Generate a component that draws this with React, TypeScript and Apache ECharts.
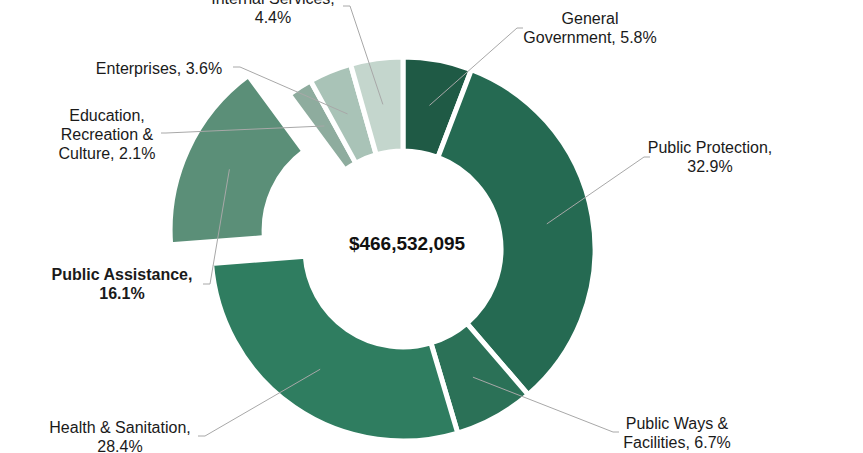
import React, { useEffect, useRef } from 'react';
import * as echarts from 'echarts';

const categories = [
  'General Government',
  'Public Protection',
  'Public Ways & Facilities',
  'Health & Sanitation',
  'Public Assistance',
  'Education, Recreation & Culture',
  'Enterprises',
  'Internal Services',
];
const labelPrefixes = [
  'General\nGovernment, ',
  'Public Protection,\n',
  'Public Ways &\nFacilities, ',
  'Health & Sanitation,\n',
  'Public Assistance,\n',
  'Education,\nRecreation &\nCulture, ',
  'Enterprises, ',
  'Internal Services,\n',
];
const values = [5.8, 32.9, 6.7, 28.4, 16.1, 2.1, 3.6, 4.4];
const colors = ['#1f5a45', '#256a52', '#2b7157', '#2f7d60', '#5b8f78', '#8eac9e', '#a9c3b7', '#c4d6cd'];
const totalLabel = '$466,532,095';
const highlighted = 'Public Assistance';

// layout (positions only)
const CX = 403;
const CY = 249;
const R_IN = 98;
const R_OUT = 192;
const ANCHOR_R = 146;
const EXPLODE = 45;
const labelPos: number[][] = [
  [590, 28], [710, 157], [677, 433], [120, 437], [122, 284], [107, 134], [159, 68], [273, 8],
];
const leaderEnds: number[][][] = [
  [[517, 28], [523, 28]],
  [[644, 157], [650, 157]],
  [[613, 432], [619, 432]],
  [[205, 436], [198, 436]],
  [[210, 284], [203, 284]],
  [[166, 133], [161, 133]],
  [[240, 67], [233, 67]],
  [[350, 6], [343, 6]],
];

const FONT = 'Liberation Sans, Arial, sans-serif';

export default function App() {
  const ref = useRef<HTMLDivElement>(null);
  useEffect(() => {
    document.body.style.margin = '0';
    if (!ref.current) return;
    const chart = echarts.init(ref.current, undefined, { renderer: 'svg' });
    const total = values.reduce((a, b) => a + b, 0);
    let acc = 0;
    const anchors = values.map((v, i) => {
      const mid = ((acc + v / 2) / total) * Math.PI * 2;
      acc += v;
      const r = ANCHOR_R + (categories[i] === highlighted ? EXPLODE : 0);
      return [CX + r * Math.sin(mid), CY - r * Math.cos(mid)];
    });
    const leaders = anchors.map((a, i) => ({
      type: 'polyline',
      z: 100,
      silent: true,
      shape: { points: [a, ...leaderEnds[i]] },
      style: { stroke: '#a8a8a8', lineWidth: 1, fill: null },
    }));
    const labels = categories.map((name, i) => ({
      type: 'text',
      z: 100,
      silent: true,
      x: labelPos[i][0],
      y: labelPos[i][1],
      style: {
        text: labelPrefixes[i] + values[i].toFixed(1) + '%',
        fontSize: 16,
        lineHeight: 19,
        fontWeight: name === highlighted ? 'bold' : 'normal',
        fontFamily: FONT,
        fill: '#1a1a1a',
        align: 'center',
        verticalAlign: 'middle',
      },
    }));
    chart.setOption({
      animation: false,
      backgroundColor: '#ffffff',
      graphic: [
        ...leaders,
        ...labels,
        {
          type: 'text',
          z: 100,
          x: 407,
          y: 243,
          style: {
            text: totalLabel,
            fontSize: 19,
            fontWeight: 'bold',
            fontFamily: FONT,
            fill: '#111111',
            align: 'center',
            verticalAlign: 'middle',
          },
        },
      ],
      series: [
        {
          type: 'pie',
          center: [CX, CY],
          radius: [R_IN, R_OUT],
          startAngle: 90,
          clockwise: true,
          avoidLabelOverlap: false,
          selectedMode: 'single',
          selectedOffset: EXPLODE,
          silent: true,
          emphasis: { disabled: true },
          itemStyle: { borderColor: '#ffffff', borderWidth: 5 },
          label: { show: false },
          labelLine: { show: false },
          data: categories.map((name, i) => ({
            name,
            value: values[i],
            selected: name === highlighted,
            itemStyle: { color: colors[i] },
            select: { itemStyle: { color: colors[i], borderColor: '#ffffff', borderWidth: 5 } },
          })),
        },
      ],
    });
    return () => chart.dispose();
  }, []);
  return <div ref={ref} style={{ width: 863, height: 453 }} />;
}
